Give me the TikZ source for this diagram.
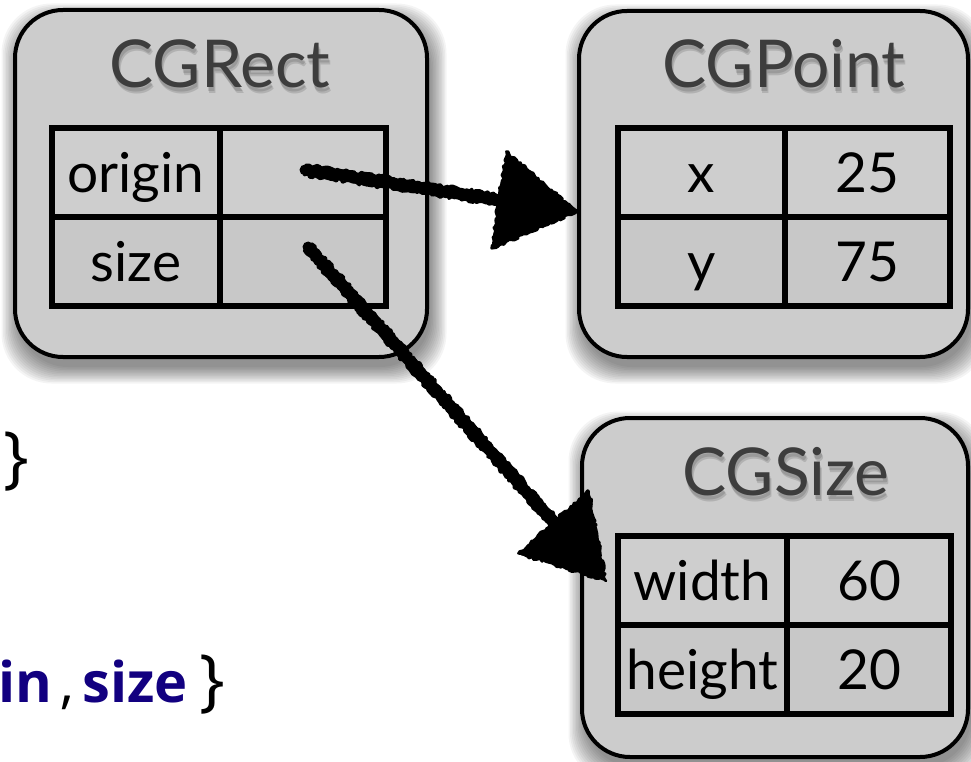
\documentclass[tikz,border=0pt]{standalone}
\usepackage{fontspec}
\setmainfont{Lato}
\newfontfamily\codefont{Open Sans}
\usetikzlibrary{calc,decorations.pathmorphing}
\definecolor{boxfill}{HTML}{CCCCCC}
\definecolor{rowA}{HTML}{CECECE}
\definecolor{rowB}{HTML}{C8C8C8}
\definecolor{titlegray}{HTML}{3D3D3D}
\definecolor{navycode}{RGB}{18,0,128}
\tikzset{
  classbox/.style={draw=black, line width=4pt, fill=boxfill, rounded corners=48pt, inner sep=0pt},
  cellbase/.style={draw=black, line width=6pt, inner sep=0pt, minimum height=89pt,
    text height=40pt, text depth=0pt, font=\fontsize{55}{60}\selectfont},
  cellA/.style={cellbase, fill=rowA},
  cellB/.style={cellbase, fill=rowB},
  titletext/.style={anchor=base, inner sep=0pt, text=titlegray, font=\fontsize{66}{72}\selectfont},
  titleshade/.style={anchor=base, inner sep=0pt, text=black, opacity=0.13, font=\fontsize{66}{72}\selectfont},
  chalkline/.style={draw=black, line width=11pt, line cap=round, line join=round,
    decorate, decoration={random steps, segment length=3pt, amplitude=1.2pt}},
  chalkthin/.style={draw=black, line width=3pt, line cap=round, line join=round,
    decorate, decoration={random steps, segment length=2.5pt, amplitude=1.6pt}},
  chalkhead/.style={fill=black, draw=black, line width=2.5pt, line join=round,
    decorate, decoration={random steps, segment length=2.5pt, amplitude=1.5pt}},
  codetext/.style={anchor=base west, inner sep=0pt, font=\codefont\fontsize{56}{62}\selectfont},
  codeword/.style={codetext, text=navycode, font=\codefont\bfseries\fontsize{56}{62}\selectfont},
  bracetext/.style={anchor=base west, inner sep=0pt, font=\codefont\fontsize{68}{72}\selectfont}
}
\newcommand\boxshadow[4]{%
  \foreach \i in {0,...,11}{%
    \fill[black, opacity=0.045, rounded corners=50pt]
      (#1+3-\i*1.5, #2+10-\i*1.5) rectangle (#3+3+\i*1.5, #4+10+\i*1.5);
  }}
\newcommand\titlewithshade[4]{% name, x, y, text
  \foreach \dx/\dy in {1/4, 2/6}{%
    \node[titleshade] at (#2+\dx, #3+\dy) {#4};
  }
  \node[titletext] (#1) at (#2,#3) {#4};
}
\newcommand\chalkarrow[3]{% start, end, half width
  \coordinate (#2-base) at ($(#2)!79pt!(#1)$);
  \coordinate (#2-l) at ($(#2-base)!#3pt!90:(#2)$);
  \coordinate (#2-r) at ($(#2-base)!#3pt!-90:(#2)$);
  \draw[chalkline] (#1) -- ($(#2-base)!-10pt!(#1)$);
  \draw[chalkthin] ($(#1)!5pt!90:(#2-base)$) -- ($(#2-base)!5pt!-90:(#1)$);
  \draw[chalkthin] ($(#1)!5pt!-90:(#2-base)$) -- ($(#2-base)!5pt!90:(#1)$);
  \fill[chalkhead] (#2-l) -- (#2) -- (#2-r) -- cycle;
}
\begin{document}
\begin{tikzpicture}[x=1pt,y=-1pt]
\pgfmathsetseed{7}
\useasboundingbox[fill=white] (0,0) rectangle (971,762);
% shadows
\boxshadow{15}{10}{427}{357}
\boxshadow{579}{11}{968}{357}
\boxshadow{582}{418}{968}{757}
% boxes
\node[classbox, minimum width=412pt, minimum height=347pt] (rectbox) at (221,183.5) {};
\node[classbox, minimum width=389pt, minimum height=346pt] (pointbox) at (773.5,184) {};
\node[classbox, minimum width=386pt, minimum height=339pt] (sizebox) at (775,587.5) {};
% titles
\titlewithshade{recttitle}{220}{88}{CGRect}
\titlewithshade{pointtitle}{784}{88}{CGPoint}
\titlewithshade{sizetitle}{786}{495}{CGSize}
% CGRect table
\node[cellA, minimum width=168pt] (rol) at (136,172.5) {origin};
\node[cellA, minimum width=166pt] (rov) at (303,172.5) {};
\node[cellB, minimum width=168pt] (rsl) at (136,261.5) {size};
\node[cellB, minimum width=166pt] (rsv) at (303,261.5) {};
% CGPoint table
\node[cellA, minimum width=167pt] (pxl) at (701.5,172.5) {x};
\node[cellA, minimum width=165pt] (pxv) at (867.5,172.5) {25};
\node[cellB, minimum width=167pt] (pyl) at (701.5,261) {y};
\node[cellB, minimum width=165pt] (pyv) at (867.5,261) {75};
% CGSize table
\node[cellA, minimum width=169pt] (swl) at (702.5,580.5) {width};
\node[cellA, minimum width=164pt] (swv) at (869,580.5) {60};
\node[cellB, minimum width=169pt] (shl) at (702.5,669) {height};
\node[cellB, minimum width=164pt] (shv) at (869,669) {20};
% code text
\node[bracetext] (brace1) at (3,480) {\}};
\node[codeword] (codein) at (-2,702) {in};
\node[codetext] (codecomma) at (60,702) {,};
\node[codeword] (codesize) at (82,702) {size};
\node[bracetext] (brace2) at (199,703) {\}};
% arrows
\coordinate (originptr) at (305,170);
\coordinate (pointin) at (577,212);
\coordinate (sizeptr) at (308,247);
\coordinate (sizein) at (606,581);
\chalkarrow{originptr}{pointin}{49}
\chalkarrow{sizeptr}{sizein}{47}
\end{tikzpicture}
\end{document}
